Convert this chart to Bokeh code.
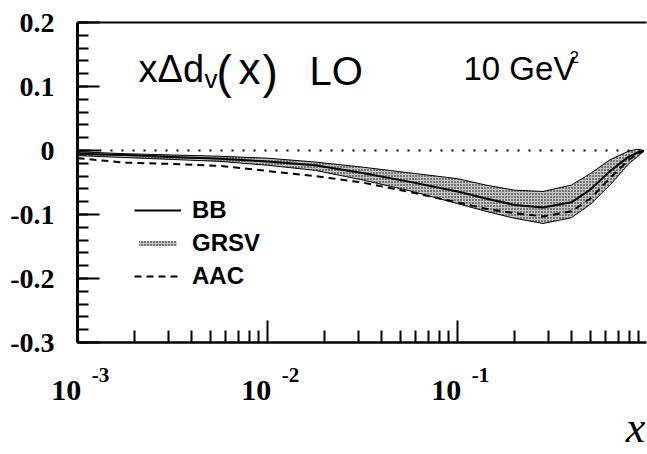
import numpy as np
from bokeh.plotting import figure
from bokeh.models import (Range1d, LogAxis, FixedTicker, Label, Legend, LegendItem, Span)
from bokeh.embed import file_html
from bokeh.resources import INLINE

# ---------------- data ----------------
x_vals = [1.0e-3, 1.78e-3, 3.16e-3, 5.62e-3, 1.0e-2, 1.78e-2, 3.16e-2, 5.62e-2,
          1.0e-1, 0.141, 0.2, 0.282, 0.398, 0.501, 0.631, 0.794, 0.891, 0.955]
grsv_upper = [-0.002, -0.005, -0.007, -0.009, -0.012, -0.018, -0.026, -0.035,
              -0.044, -0.054, -0.062, -0.064, -0.054, -0.036, -0.015, -0.001, 0.002, 0.0]
grsv_lower = [-0.008, -0.011, -0.014, -0.017, -0.023, -0.031, -0.046, -0.063,
              -0.083, -0.095, -0.106, -0.114, -0.105, -0.084, -0.055, -0.021, -0.009, -0.001]
bb = [-0.005, -0.007, -0.010, -0.013, -0.017, -0.023, -0.035, -0.049,
      -0.064, -0.075, -0.085, -0.089, -0.081, -0.061, -0.033, -0.010, -0.003, -0.0005]
aac = [-0.012, -0.019, -0.021, -0.024, -0.032, -0.040, -0.050, -0.065,
       -0.081, -0.091, -0.098, -0.103, -0.095, -0.075, -0.044, -0.015, -0.005, -0.001]

x_major = [1e-3, 1e-2, 1e-1]
x_base_label = "10"
x_exp_labels = ["-3", "-2", "-1"]
x_minor = [m * 10.0 ** e for e in (-3, -2, -1) for m in range(2, 10)]
y_major = [-0.3, -0.2, -0.1, 0.0, 0.1, 0.2]
y_labels = ["-0.3", "-0.2", "-0.1", "0", "0.1", "0.2"]
y_minor = [round(-0.3 + 0.02 * i, 2) for i in range(26)]
legend_names = ["BB", "GRSV", "AAC"]
x_title = "x"

# ---------------- layout helpers (pixel -> data for annotations) ----------------
X0_PX, DEC_PX, Y0_PX, YSCALE = 77.0, 190.0, 150.5, 645.0
def dx(px):
    return 10 ** (-3 + (px - X0_PX) / DEC_PX)
def dy(py):
    return (Y0_PX - py) / YSCALE
def shift(t, dpx):
    return t * 10 ** (dpx / DEC_PX)

p = figure(width=647, height=454, x_axis_type="log",
           x_range=Range1d(1e-3, 0.988), y_range=Range1d(-0.3, 0.2),
           output_backend="svg", toolbar_location=None,
           min_border_left=77, min_border_right=1, min_border_top=22, min_border_bottom=110)
p.grid.visible = False
p.outline_line_color = None
p.background_fill_color = "white"
p.border_fill_color = "white"

# main x axis: line + ticks only
xa = p.xaxis[0]
xa.ticker = FixedTicker(ticks=x_major, minor_ticks=x_minor)
xa.major_tick_in = 22
xa.major_tick_out = 0
xa.minor_tick_in = 12
xa.minor_tick_out = 0
xa.axis_line_width = 2.5
xa.major_tick_line_width = 2
xa.minor_tick_line_width = 2
xa.major_label_overrides = {t: "" for t in x_major}
xa.major_label_text_font_size = "0px"
xa.major_label_standoff = 0

def label_axis(ticks, labels, standoff, size, style):
    ax = LogAxis(ticker=FixedTicker(ticks=ticks), axis_line_color=None,
                 major_tick_line_color=None, minor_tick_line_color=None,
                 major_tick_in=0, major_tick_out=0, minor_tick_in=0, minor_tick_out=0,
                 major_label_standoff=standoff,
                 major_label_overrides={t: s for t, s in zip(ticks, labels)},
                 major_label_text_font="Liberation Serif",
                 major_label_text_font_style=style,
                 major_label_text_font_size=size, major_label_text_color="black")
    p.add_layout(ax, "below")
    return ax

# superscripts, then "10", then the axis title
sup_ticks = [shift(t, 23) for t in x_major]
label_axis(sup_ticks, x_exp_labels, 25, "21px", "bold")
ten_labels = [x_base_label + "\u00a0\u00a0\u00a0" for _ in x_major]
label_axis(x_major, ten_labels, -12, "30px", "bold")
label_axis([dx(635)], [x_title], -6, "44px", "italic")

# y axis
ya = p.yaxis[0]
ya.ticker = FixedTicker(ticks=y_major, minor_ticks=y_minor)
ya.major_label_overrides = {t: s for t, s in zip(y_major, y_labels)}
ya.major_tick_in = 22
ya.major_tick_out = 0
ya.minor_tick_in = 11
ya.minor_tick_out = 0
ya.axis_line_width = 3
ya.major_tick_line_width = 2
ya.minor_tick_line_width = 2
ya.major_label_standoff = 23
ya.major_label_text_font = "Liberation Serif"
ya.major_label_text_font_style = "bold"
ya.major_label_text_font_size = "28px"
ya.major_label_text_color = "black"

# top frame line
top = LogAxis(ticker=FixedTicker(ticks=[]), axis_line_width=2,
              major_label_text_font_size="0px")
p.add_layout(top, "above")

# zero line
p.add_layout(Span(location=0, dimension="width", line_color="black",
                  line_width=2, line_dash="2 9"))

# band + curves
r_band = p.varea(x=x_vals, y1=grsv_lower, y2=grsv_upper, fill_color="#c4c4c4",
                 hatch_pattern="dot", hatch_color="black", hatch_scale=3, hatch_weight=1)
p.line(x_vals, grsv_upper, line_color="black", line_width=1)
p.line(x_vals, grsv_lower, line_color="black", line_width=1)
r_bb = p.line(x_vals, bb, line_color="black", line_width=2)
r_aac = p.line(x_vals, aac, line_color="black", line_width=2, line_dash="7 5")

legend = Legend(items=[LegendItem(label=legend_names[0], renderers=[r_bb]),
                       LegendItem(label=legend_names[1], renderers=[r_band]),
                       LegendItem(label=legend_names[2], renderers=[r_aac])],
                location=(57, 50), glyph_width=47, glyph_height=6, label_height=33,
                spacing=0, padding=0, margin=0, border_line_color=None,
                background_fill_alpha=0, label_standoff=11,
                label_text_font="Liberation Sans", label_text_font_style="bold",
                label_text_font_size="24px", label_text_color="black")
p.add_layout(legend)

def lab(text, px, py, size, font="Liberation Sans", style="normal", align="left"):
    p.add_layout(Label(x=dx(px), y=dy(py), text=text, text_font=font,
                       text_font_size=size, text_font_style=style,
                       text_align=align, text_baseline="alphabetic", text_color="black"))

lab("x\u0394d", 138, 68, "38px")
lab("v", 204, 78, "26px")
lab("(", 216, 71, "46px")
lab("x", 238, 68, "44px")
lab(")", 262, 71, "46px")
lab("LO", 309, 70, "40px")
lab("10 GeV", 463, 68, "33px")
lab("2", 569, 56, "17px")

open("out.html", "w").write(file_html(p, INLINE))
